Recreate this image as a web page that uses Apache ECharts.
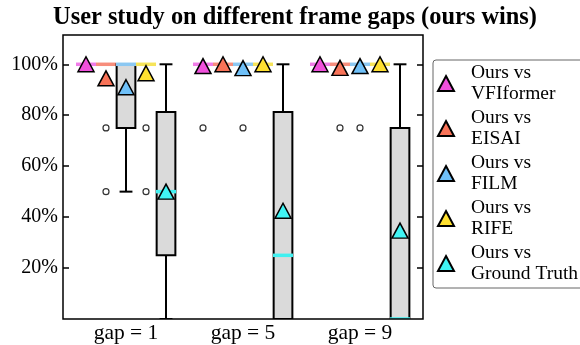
<!DOCTYPE html>
<html>
<head>
<meta charset="utf-8">
<script src="https://cdn.jsdelivr.net/npm/echarts@6/dist/echarts.min.js"></script>
<style>html,body{margin:0;padding:0;background:#fff}#c{width:580px;height:345px}</style>
</head>
<body>
<div id="c"></div>
<script>
// ---- data ----
const gaps = ['gap = 1', 'gap = 5', 'gap = 9'];
const methods = ['VFIformer', 'EISAI', 'FILM', 'RIFE', 'Ground Truth'];
const yTicks = [0.2, 0.4, 0.6, 0.8, 1.0];
// box stats per method, per gap: [min, q1, median, q3, max]
const statsVFIformer = [[1, 1, 1, 1, 1], [1, 1, 1, 1, 1], [1, 1, 1, 1, 1]];
const statsEISAI     = [[1, 1, 1, 1, 1], [1, 1, 1, 1, 1], [1, 1, 1, 1, 1]];
const statsFILM      = [[0.5, 0.75, 1, 1, 1], [1, 1, 1, 1, 1], [1, 1, 1, 1, 1]];
const statsRIFE      = [[1, 1, 1, 1, 1], [1, 1, 1, 1, 1], [1, 1, 1, 1, 1]];
const statsGT        = [[0, 0.25, 0.5, 0.8125, 1], [0, 0, 0.25, 0.8125, 1], [0, 0, 0, 0.75, 1]];
// means per method, per gap
const meanVFIformer = [1.0, 0.993, 1.0];
const meanEISAI     = [0.945, 1.0, 0.986];
const meanFILM      = [0.91, 0.985, 0.993];
const meanRIFE      = [0.965, 1.0, 1.0];
const meanGT        = [0.50, 0.425, 0.347];
// outliers: [gapIndex, methodIndex, value]
const outliers = [
  [0, 1, 0.75], [0, 1, 0.5], [0, 3, 0.75], [0, 3, 0.5],
  [1, 0, 0.75], [1, 2, 0.75],
  [2, 1, 0.75], [2, 2, 0.75]
];

const allStats = [statsVFIformer, statsEISAI, statsFILM, statsRIFE, statsGT];
const allMeans = [meanVFIformer, meanEISAI, meanFILM, meanRIFE, meanGT];
const markerColors = ['#F050DC', '#F87358', '#6FC0F8', '#FFE030', '#40F4F4'];
const medianColors = ['#F07CE8', '#F78E7C', '#8CC8F2', '#F6E45A', '#40F0F0'];

const slot = 0.171;
const posX = (g, m) => g + 1 + (m - 2) * slot;

const boxData = [];
allStats.forEach((arr, m) => arr.forEach((s, g) => boxData.push([posX(g, m), s[0], s[1], s[2], s[3], s[4], m])));

const serif = '"Liberation Serif", "DejaVu Serif", serif';

function renderBox(params, api) {
  const x = api.value(0);
  const mn = api.value(1), q1 = api.value(2), md = api.value(3), q3 = api.value(4), mx = api.value(5);
  const m = api.value(6);
  const hw = 0.08, cw = 0.055, mw = 0.0855;
  const c = (a, b) => api.coord([a, b]);
  const ls = { stroke: '#000', lineWidth: 2 };
  const line = (p1, p2, style) => ({ type: 'line', shape: { x1: p1[0], y1: p1[1], x2: p2[0], y2: p2[1] }, style });
  const tl = c(x - hw, q3), br = c(x + hw, q1);
  return {
    type: 'group',
    children: [
      line(c(x, q1), c(x, mn), ls),
      line(c(x, q3), c(x, mx), ls),
      line(c(x - cw, mn), c(x + cw, mn), ls),
      line(c(x - cw, mx), c(x + cw, mx), ls),
      { type: 'rect', shape: { x: tl[0], y: tl[1], width: br[0] - tl[0], height: br[1] - tl[1] }, style: { fill: '#DADADA', stroke: '#000', lineWidth: 2 } },
      line(c(x - mw, md), c(x + mw, md), { stroke: medianColors[m], lineWidth: 3.5 })
    ]
  };
}

const series = [
  {
    type: 'custom', renderItem: renderBox, data: boxData, z: 2, silent: true, clip: true,
    encode: { x: 0, y: [1, 5] }
  },
  {
    type: 'scatter', data: outliers.map(o => [posX(o[0], o[1]), o[2]]), symbol: 'circle', symbolSize: 6,
    itemStyle: { color: '#fff', borderColor: '#000', borderWidth: 1.2 }, z: 3, silent: true
  }
];
methods.forEach((name, m) => {
  series.push({
    type: 'scatter', name: name, data: allMeans[m].map((v, g) => [posX(g, m), v]),
    symbol: 'triangle', symbolSize: [16, 15],
    itemStyle: { color: markerColors[m], borderColor: '#000', borderWidth: 1.5, opacity: 1 }, z: 4, silent: true
  });
});

const chart = echarts.init(document.getElementById('c'), null, { renderer: 'canvas' });
chart.setOption({
  animation: false,
  title: {
    text: 'User study on different frame gaps (ours wins)', left: 290, textAlign: 'center', top: 1,
    textStyle: { fontFamily: serif, fontWeight: 'bold', fontSize: 24.4, color: '#000' }
  },
  grid: { left: 63, right: 157, top: 35, bottom: 26, show: true, z: 10, borderColor: '#000', borderWidth: 1.5, backgroundColor: 'transparent' },
  xAxis: {
    type: 'value', min: 0.4615, max: 3.5385,
    axisLine: { show: false }, axisTick: { show: false }, splitLine: { show: false },
    axisLabel: {
      customValues: [1, 2, 3], formatter: v => gaps[Math.round(v) - 1] || '',
      fontFamily: serif, fontSize: 21.5, color: '#000', margin: 3
    }
  },
  yAxis: [
    {
      type: 'value', min: 0, max: 1.115, interval: 0.2,
      axisLine: { show: false }, splitLine: { show: false },
      axisTick: { show: true, inside: true, length: 6, lineStyle: { color: '#000', width: 1.5 }, customValues: yTicks },
      axisLabel: {
        customValues: yTicks, formatter: v => Math.round(v * 100) + '%',
        fontFamily: serif, fontSize: 20, color: '#000', margin: 5
      }
    },
    {
      type: 'value', min: 0, max: 1.115, interval: 0.2, position: 'right',
      axisLine: { show: false }, splitLine: { show: false },
      axisTick: { show: true, inside: true, length: 6, lineStyle: { color: '#000', width: 1.5 }, customValues: yTicks },
      axisLabel: { show: false }
    }
  ],
  legend: {
    orient: 'vertical', left: 433, top: 60, right: 2,
    data: methods, itemWidth: 16, itemHeight: 15, itemGap: 4,
    padding: [3, 6, 4, 4],
    borderColor: '#666', borderWidth: 1, borderRadius: 3,
    formatter: n => 'Ours vs\n' + n,
    textStyle: { fontFamily: serif, fontSize: 19.5, color: '#000', lineHeight: 20.5, padding: [0, 0, 0, 12] }
  },
  series: series
});
</script>
</body>
</html>
